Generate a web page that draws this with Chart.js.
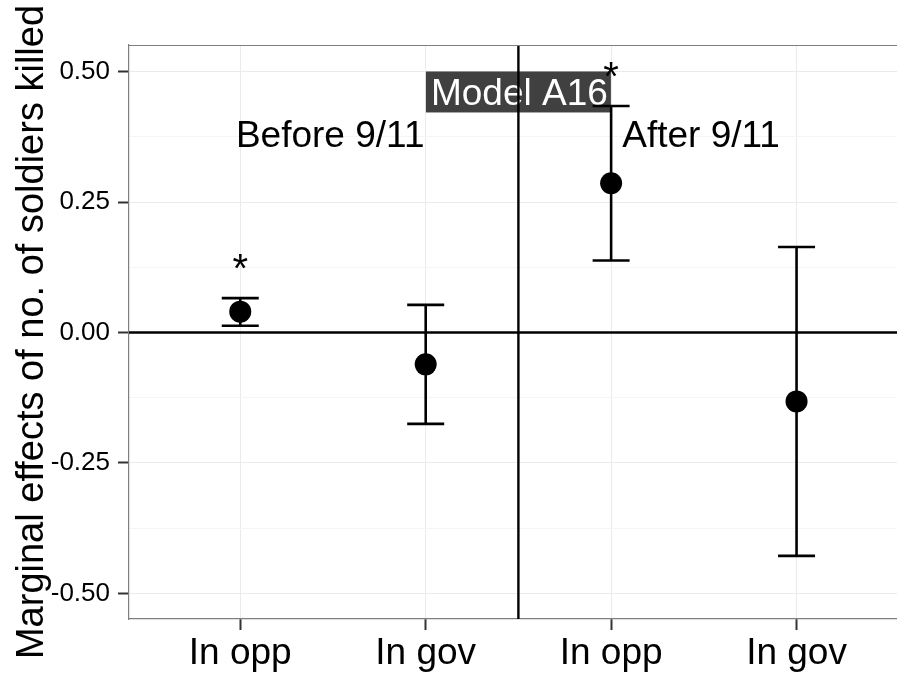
<!DOCTYPE html>
<html><head><meta charset="utf-8">
<script src="https://cdn.jsdelivr.net/npm/chart.js@4/dist/chart.umd.min.js"></script>
<style>html,body{margin:0;padding:0;background:#fff;overflow:hidden}canvas{display:block}</style>
</head><body><canvas id="c" width="897" height="675" style="width:897px;height:675px"></canvas>
<script>
const categories = ["In opp", "In gov", "In opp", "In gov"];
const estimates = [0.040, -0.061, 0.286, -0.132];
const lower = [0.013, -0.175, 0.138, -0.428];
const upper = [0.066, 0.053, 0.434, 0.164];
const significant = [true, false, true, false];
const yTickValues = [-0.5, -0.25, 0, 0.25, 0.5];
const yTickLabels = ["-0.50", "-0.25", "0.00", "0.25", "0.50"];
const yMinorValues = [-0.375, -0.125, 0.125, 0.375];
const periodLabels = ["Before 9/11", "After 9/11"];
const modelLabel = "Model A16";
const yTitle = "Marginal effects of no. of soldiers killed";

const FONT = "'Liberation Sans', Arial, Helvetica, sans-serif";
Chart.defaults.font.family = FONT;
Chart.defaults.color = '#000';

const datasets = [];
categories.forEach((c, i) => {
  datasets.push({
    type: 'line',
    data: [{x: i + 1, y: lower[i]}, {x: i + 1, y: upper[i]}],
    borderColor: '#000', borderWidth: 2.6,
    pointStyle: 'line', pointRadius: 18.5, pointBorderWidth: 2.6,
    pointBorderColor: '#000', pointBackgroundColor: '#000',
    order: 2
  });
});
datasets.push({
  type: 'scatter',
  data: estimates.map((v, i) => ({x: i + 1, y: v})),
  pointRadius: 11, pointBackgroundColor: '#000', pointBorderWidth: 0,
  order: 1
});

const annot = {
  id: 'annot',
  beforeDatasetsDraw(chart) {
    const {ctx, chartArea: a, scales: {x, y}} = chart;
    ctx.save();
    const cx = x.getPixelForValue(2.5), cy = y.getPixelForValue(0.461);
    ctx.font = '37px ' + FONT;
    ctx.fillStyle = '#404040';
    ctx.fillRect(cx - 92.5, cy - 20.5, 185, 41);
    ctx.fillStyle = '#fff';
    ctx.textAlign = 'center'; ctx.textBaseline = 'alphabetic';
    ctx.fillText(modelLabel, cx + 1, y.getPixelForValue(0.436));
    ctx.strokeStyle = '#000'; ctx.lineWidth = 2.4;
    const y0 = y.getPixelForValue(0);
    ctx.beginPath(); ctx.moveTo(a.left, y0); ctx.lineTo(a.right, y0); ctx.stroke();
    const xv = x.getPixelForValue(2.5);
    ctx.beginPath(); ctx.moveTo(xv, a.top); ctx.lineTo(xv, a.bottom); ctx.stroke();
    ctx.strokeStyle = '#7f7f7f'; ctx.lineWidth = 1.2;
    ctx.beginPath(); ctx.moveTo(a.left, a.top + 0.5); ctx.lineTo(a.right, a.top + 0.5); ctx.stroke();
    ctx.restore();
  },
  afterDatasetsDraw(chart) {
    const {ctx, scales: {x, y}} = chart;
    ctx.save();
    ctx.fillStyle = '#000';
    ctx.textAlign = 'center'; ctx.textBaseline = 'alphabetic';
    ctx.font = '37px ' + FONT;
    ctx.fillText(periodLabels[0], x.getPixelForValue(1.485), y.getPixelForValue(0.356));
    ctx.fillText(periodLabels[1], x.getPixelForValue(3.485), y.getPixelForValue(0.356));
    ctx.font = '40px ' + FONT;
    significant.forEach((s, i) => {
      if (!s) return;
      ctx.textBaseline = 'middle';
      ctx.fillText('*', x.getPixelForValue(i + 1), y.getPixelForValue(upper[i] + 0.067) + 8);
    });
    ctx.font = '38px ' + FONT;
    ctx.textBaseline = 'alphabetic';
    ctx.translate(43, (chart.chartArea.top + chart.chartArea.bottom) / 2);
    ctx.rotate(-Math.PI / 2);
    ctx.fillText(yTitle, 0, 0);
    ctx.restore();
  }
};

new Chart(document.getElementById('c'), {
  data: {datasets},
  options: {
    responsive: false, animation: false,
    events: [],
    layout: {autoPadding: false, padding: {top: 45, left: 0, right: 0, bottom: 0}},
    plugins: {legend: {display: false}, tooltip: {enabled: false}},
    scales: {
      x: {
        type: 'linear', min: 0.4, max: 4.5417,
        afterBuildTicks: s => { s.ticks = categories.map((c, i) => ({value: i + 1})); },
        afterFit: s => { s.height = 56; s.paddingLeft = 0; s.paddingRight = 0; },
        ticks: {
          autoSkip: false, maxRotation: 0, padding: 2,
          font: {size: 37}, color: '#000',
          callback: v => categories[Math.round(v) - 1] || ''
        },
        grid: {color: '#ebebeb', lineWidth: 1, tickColor: '#333', tickWidth: 2, tickLength: 11},
        border: {color: '#7f7f7f', width: 1.2}
      },
      y: {
        type: 'linear', min: -0.549, max: 0.551,
        afterBuildTicks: s => {
          s.ticks = yTickValues.concat(yMinorValues).sort((a, b) => a - b).map(v => ({value: v}));
        },
        afterFit: s => { s.width = 129; s.paddingTop = 0; s.paddingBottom = 0; },
        ticks: {
          autoSkip: false, padding: 8, font: {size: 26}, color: '#000',
          includeBounds: false,
          callback: v => {
            const k = yTickValues.findIndex(t => Math.abs(t - v) < 1e-9);
            return k >= 0 ? yTickLabels[k] : '';
          }
        },
        grid: {
          color: c => (c.tick && yMinorValues.some(t => Math.abs(t - c.tick.value) < 1e-9)) ? '#f5f5f5' : '#ebebeb',
          tickColor: c => (c.tick && yMinorValues.some(t => Math.abs(t - c.tick.value) < 1e-9)) ? 'rgba(0,0,0,0)' : '#333',
          lineWidth: 1, tickWidth: 2, tickLength: 11
        },
        border: {color: '#7f7f7f', width: 1.2}
      }
    }
  },
  plugins: [annot]
});
</script>
</body></html>
